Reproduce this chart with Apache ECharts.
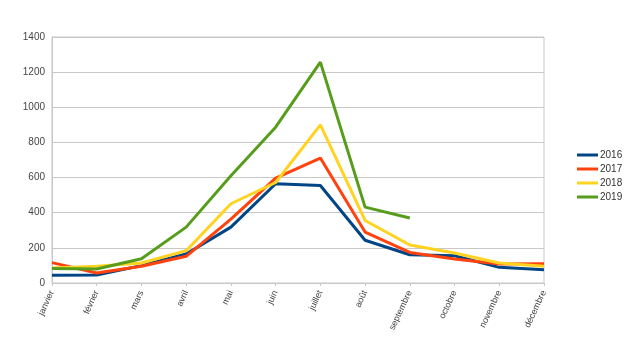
<!DOCTYPE html>
<html>
<head>
<meta charset="utf-8">
<script src="https://cdn.jsdelivr.net/npm/echarts@6/dist/echarts.min.js"></script>
<style>
  html, body { margin: 0; padding: 0; background: #fff; }
  #chart { width: 630px; height: 353px; }
</style>
</head>
<body>
<div id="chart"></div>
<script>
const months = ['janvier', 'février', 'mars', 'avril', 'mai', 'juin', 'juillet', 'août', 'septembre', 'octobre', 'novembre', 'décembre']

const y2016 = [44, 46, 99, 165, 318, 565, 555, 243, 161, 155, 89, 76]
const y2017 = [116, 57, 95, 152, 364, 597, 711, 290, 174, 136, 108, 110]
const y2018 = [85, 95, 114, 184, 451, 572, 900, 356, 216, 171, 114, 95]
const y2019 = [83, 80, 138, 318, 610, 887, 1257, 432, 370, null, null, null]

const seriesNames = ['2016', '2017', '2018', '2019']
const colors = ['#004586', '#ff420e', '#ffd320', '#579d1c']

const myChart = echarts.init(document.getElementById('chart'))

const series = [y2016, y2017, y2018, y2019].map((data, i) => ({
  name: seriesNames[i],
  type: 'line',
  data: data,
  symbol: 'none',
  showSymbol: false,
  lineStyle: { width: 3, color: colors[i] },
  itemStyle: { color: colors[i] },
  animation: false
}))

const option = {
  textStyle: { fontFamily: 'Liberation Sans' },
  grid: {
    left: 52, right: 86, top: 37, bottom: 70,
    show: true, borderColor: '#c8c8c8', borderWidth: 1
  },
  legend: {
    orient: 'vertical',
    left: 577,
    top: 149,
    padding: 0,
    icon: 'rect',
    itemWidth: 21,
    itemHeight: 3,
    itemGap: 2,
    textStyle: { fontSize: 10, color: '#333', lineHeight: 12, padding: [0, 0, 0, -3] },
    data: seriesNames
  },
  xAxis: {
    type: 'category',
    boundaryGap: false,
    data: months,
    axisLine: { lineStyle: { color: '#c8c8c8' } },
    axisTick: { show: true, length: 3, lineStyle: { color: '#c8c8c8' } },
    axisLabel: { rotate: 65, fontSize: 9, color: '#444', margin: 8, interval: 0 }
  },
  yAxis: {
    type: 'value',
    min: 0,
    max: 1400,
    interval: 200,
    axisLine: { show: true, lineStyle: { color: '#c8c8c8' } },
    axisTick: { show: false },
    axisLabel: { fontSize: 10, color: '#444', margin: 7, formatter: (v) => String(v) },
    splitLine: { lineStyle: { color: '#c8c8c8' } }
  },
  series
}

myChart.setOption(option)
</script>
</body>
</html>
